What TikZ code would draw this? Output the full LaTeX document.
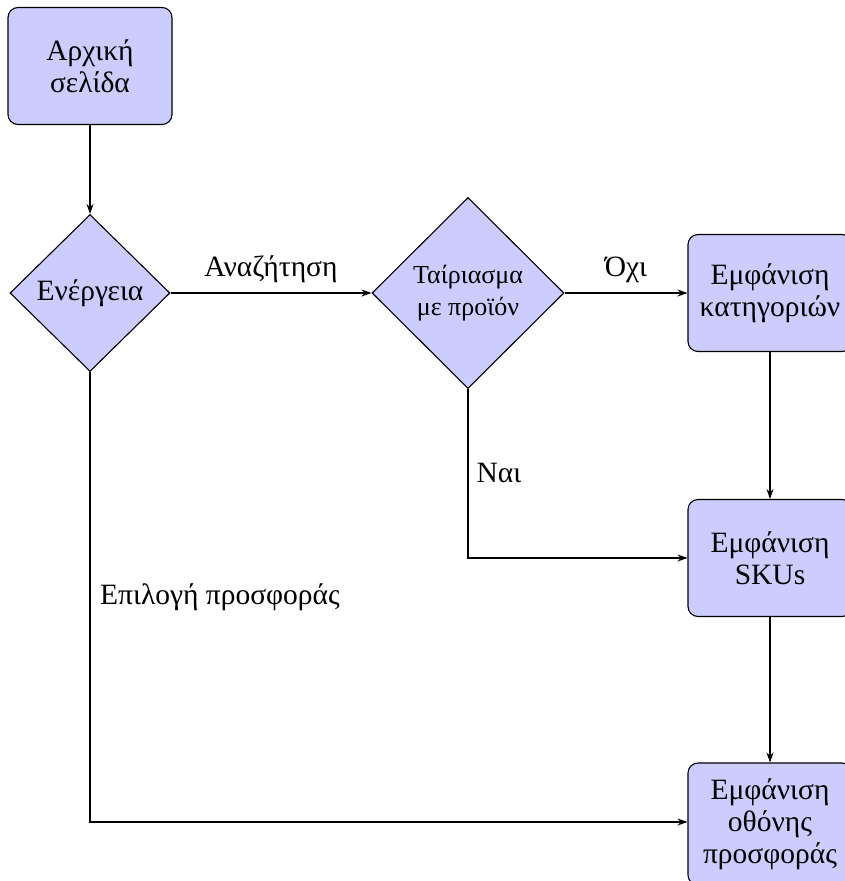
\documentclass[tikz,border=0pt]{standalone}
\usepackage{fontspec}
\setmainfont{Liberation Serif}
\usetikzlibrary{shapes.geometric,arrows.meta}
\begin{document}
\begin{tikzpicture}[x=1pt,y=-1pt,
  every node/.style={font=\fontsize{29.5}{32}\selectfont},
  box/.style={rectangle,rounded corners=10pt,draw=black,line width=1.1pt,fill=blue!20,
    minimum width=164pt,minimum height=117pt,align=center,inner sep=2pt},
  decision/.style={diamond,draw=black,line width=1.1pt,fill=blue!20,align=center,inner sep=0pt},
  conn/.style={line width=1.1pt,-{Stealth[length=10pt,width=7pt]}},
  lbl/.style={inner sep=0pt}]
\useasboundingbox (0,0) rectangle (845,881);
\node[box] (start) at (90,66) {Αρχική\\σελίδα};
\node[decision,minimum width=160pt,minimum height=157pt] (act) at (90,293) {Ενέργεια};
\node[decision,minimum width=192pt,minimum height=191pt,font=\fontsize{26}{32}\selectfont] (match) at (468,293) {Ταίριασμα\\με προϊόν};
\node[box] (cat) at (770,293) {Εμφάνιση\\κατηγοριών};
\node[box] (sku) at (770,558) {Εμφάνιση\\SKUs};
\node[box,minimum height=122pt] (offer) at (770,824) {Εμφάνιση\\οθόνης\\προσφοράς};
\coordinate (c1) at (468,558);
\coordinate (c2) at (90,822);
\draw[conn] (start) -- (act);
\draw[conn] (act) -- (match);
\draw[conn] (match) -- (cat);
\draw[conn] (match.south) -- (c1) -- (sku.west);
\draw[conn] (cat) -- (sku);
\draw[conn] (sku) -- (offer);
\draw[conn] (act.south) -- (c2) -- (offer.west |- c2);
\node[lbl] (l1) at (271,269) {Αναζήτηση};
\node[lbl] (l2) at (626,270) {Όχι};
\node[lbl] (l3) at (499,473) {Ναι};
\node[lbl] (l4) at (220,597) {Επιλογή προσφοράς};
\end{tikzpicture}
\end{document}
